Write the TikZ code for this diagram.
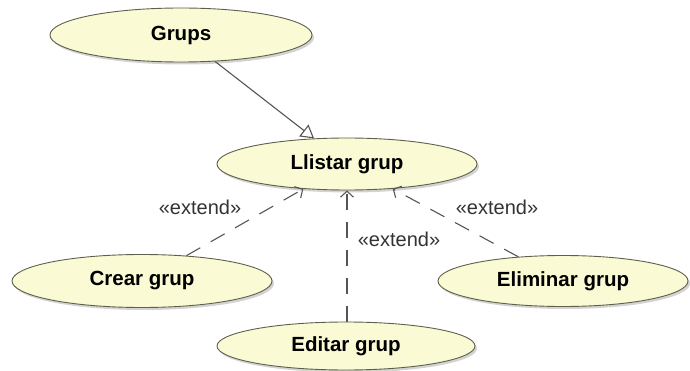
\documentclass[tikz,border=0pt]{standalone}
\usepackage{fontspec}
\setmainfont{Liberation Sans}
\usetikzlibrary{arrows.meta,shapes.geometric,shadows}
\definecolor{ucfill}{RGB}{250,250,212}
\definecolor{ucline}{RGB}{95,95,75}
\definecolor{linkgray}{RGB}{85,85,85}

\begin{document}
\begin{tikzpicture}[x=1pt,y=1pt,
      usecase/.style={ellipse,draw=ucline,line width=0.9pt,fill=ucfill,
        minimum width=258pt,minimum height=52pt,inner sep=0pt,
        font=\fontsize{20.5}{24}\selectfont\bfseries,
        drop shadow={shadow xshift=2pt,shadow yshift=-2.5pt,opacity=.35}},
      extends/.style={draw=linkgray,line width=1.1pt,dash pattern=on 16pt off 12pt,
        -{Straight Barb[length=6pt,width=13pt]}},
      generalizes/.style={draw=linkgray,line width=1.1pt,
        -{Triangle[open,length=13pt,width=15pt,fill=white]}},
      stereo/.style={text=black!80,font=\fontsize{20}{24}\selectfont}]
    \useasboundingbox (0,0) rectangle (690,-371);
    \node[usecase,minimum width=262pt,minimum height=54pt] at (181,-35) (grups) {Grups};
    \node[usecase,minimum width=260pt] at (347,-164) (llistar) {Llistar grup};
    \node[usecase,minimum width=260pt,minimum height=53pt] at (142,-281) (crear) {Crear grup};
    \node[usecase,minimum width=250pt,minimum height=51pt] at (563,-281) (eliminar) {Eliminar grup};
    \node[usecase,minimum height=48pt] at (346,-346) (editar) {Editar grup};
    \draw[generalizes] (grups) -- (llistar);
    \draw[extends] (crear) -- (llistar);
    \draw[extends] (editar.north -| llistar) -- (llistar.south);
    \draw[extends] (eliminar) -- (llistar);
      \node[stereo] at (200,-207) (ext1) {«extend»};
      \node[stereo] at (399,-239) (ext2) {«extend»};
      \node[stereo] at (497,-207) (ext3) {«extend»};
  \end{tikzpicture}
\end{document}
